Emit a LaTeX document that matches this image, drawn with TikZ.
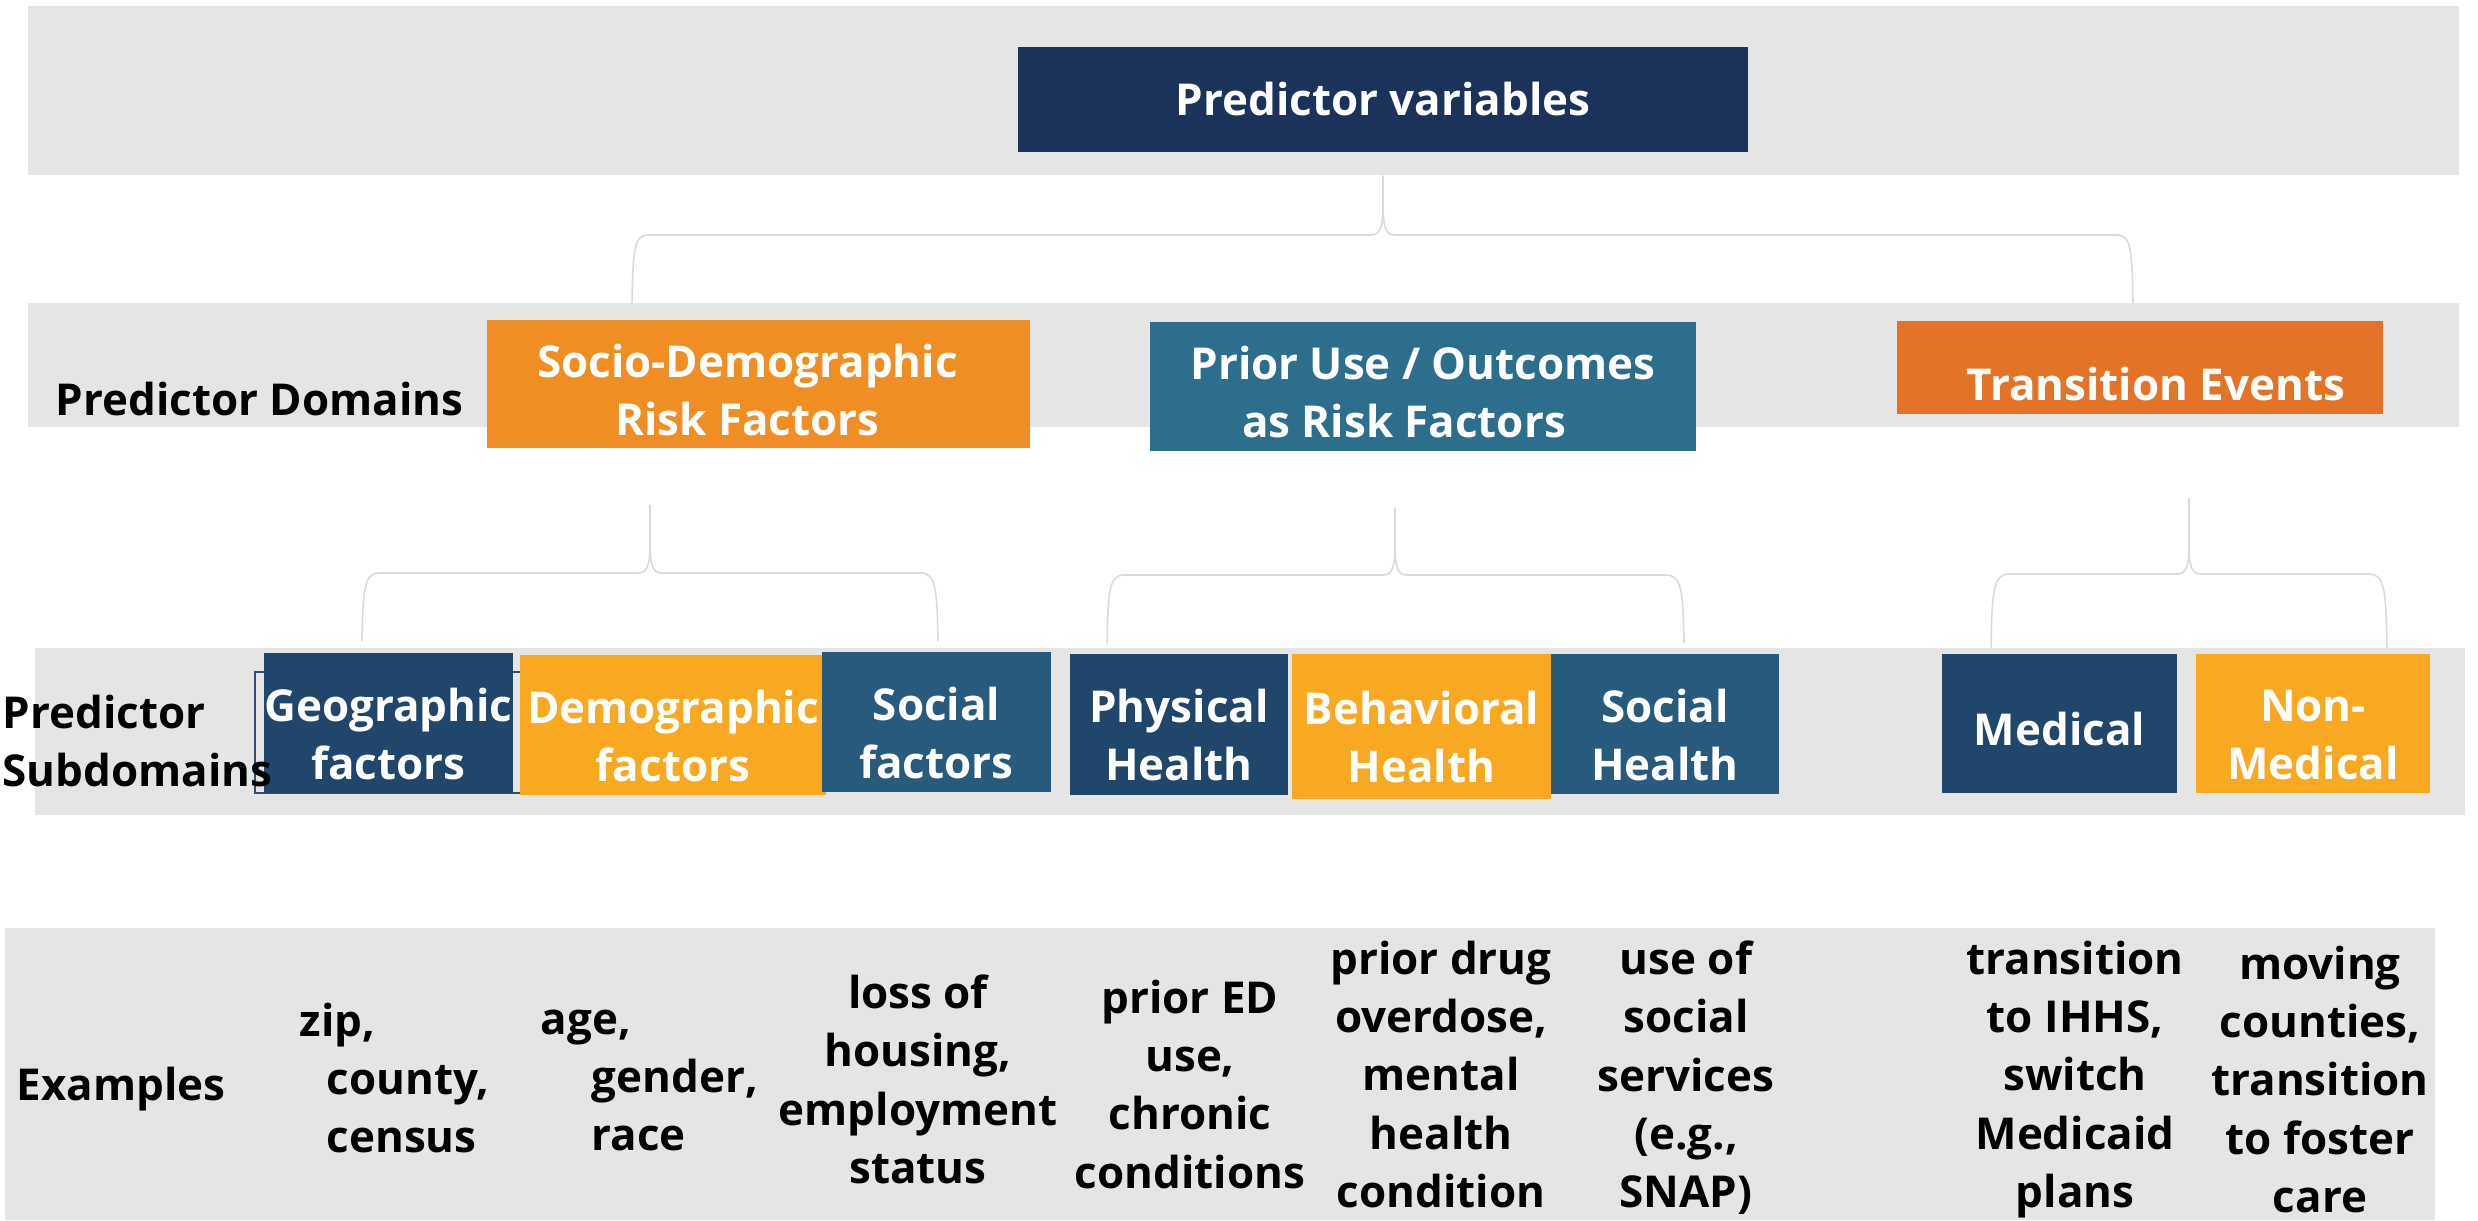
\documentclass[tikz,border=0pt]{standalone}
\usepackage{fontspec}
\setmainfont{Open Sans}
\definecolor{bandgray}{HTML}{E5E5E5}
\definecolor{bracegray}{HTML}{DADADA}
\definecolor{pvnavy}{HTML}{1B325A}
\definecolor{socorange}{HTML}{F08D23}
\definecolor{priorteal}{HTML}{2E6E8D}
\definecolor{transorange}{HTML}{E37327}
\definecolor{subnavy}{HTML}{21466B}
\definecolor{subamber}{HTML}{F8A821}
\definecolor{subblue}{HTML}{285A7D}
\definecolor{outlnavy}{HTML}{2F4F6F}
\newcommand{\dfont}{\fontsize{12.5pt}{16.6pt}\selectfont\bfseries}
\newcommand{\tl}{\rule{0pt}{5.5mm}}
\newcommand{\tld}{\rule{0pt}{4.5mm}}
\begin{document}
\begin{tikzpicture}[x=0.1mm,y=-0.1mm,
  band/.style={rectangle, fill=bandgray, draw=none, inner sep=0pt},
  box/.style={rectangle, inner sep=0pt, text=white, font=\dfont, align=center},
  lbl/.style={inner sep=0pt, font=\dfont, text=black},
  ex/.style={inner sep=0pt, font=\dfont, text=black, align=center, anchor=north},
  bracestyle/.style={draw=bracegray, line width=0.45pt}]
\useasboundingbox (0,0) rectangle (2478,1220);

% bands
\node[band, minimum width=243.1mm, minimum height=16.9mm] (band1) at (1243.5,90.5) {};
\node[band, minimum width=243.1mm, minimum height=12.4mm] (band2) at (1243.5,365) {};
\node[band, minimum width=243.0mm, minimum height=16.7mm] (band3) at (1250,731.5) {};
\node[band, minimum width=243.0mm, minimum height=29.2mm] (band4) at (1220,1074) {};

% top box
\node[box, fill=pvnavy, minimum width=73mm, minimum height=10.5mm] (pv) at (1383,99.5) {Predictor variables};

% domain boxes
\node[box, fill=socorange, minimum width=54.3mm, minimum height=12.8mm] (socio) at (758.5,384) {\tld Socio-Demographic\hspace*{2.2mm}\\Risk Factors\hspace*{2.2mm}};
\node[box, fill=priorteal, minimum width=54.6mm, minimum height=12.9mm] (prior) at (1423,386.5) {\tld Prior Use / Outcomes\\as Risk Factors\hspace*{3.8mm}};
\node[box, fill=transorange, minimum width=48.6mm, minimum height=9.3mm, text height=6.6mm, text depth=0mm] (trans) at (2140,367.5) {\hspace*{3.2mm}Transition Events};

% brace 1
\coordinate (s1) at (pv |- band1.south);
\coordinate (l1) at (632,303);
\coordinate (r1) at (2133,303);
\draw[bracestyle] (l1) .. controls (633,250) and (634,235) .. (648,235) -- (1371,235)
  .. controls (1380,235) and (1383,228) .. (1383,205) -- (s1);
\draw[bracestyle] (r1) .. controls (2132,250) and (2131,235) .. (2117,235) -- (1395,235)
  .. controls (1386,235) and (1383,228) .. (1383,205) -- (s1);

% brace 2
\coordinate (s2) at (650,505);
\coordinate (l2) at (362,641);
\coordinate (r2) at (938,641);
\draw[bracestyle] (l2) .. controls (363,590) and (364,573) .. (379,573) -- (638,573)
  .. controls (647,573) and (650,566) .. (650,543) -- (s2);
\draw[bracestyle] (r2) .. controls (937,590) and (936,573) .. (921,573) -- (662,573)
  .. controls (653,573) and (650,566) .. (650,543) -- (s2);

% brace 3
\coordinate (s3) at (1395,508);
\coordinate (l3) at (1107,643);
\coordinate (r3) at (1684,643);
\draw[bracestyle] (l3) .. controls (1108,592) and (1109,575) .. (1124,575) -- (1383,575)
  .. controls (1392,575) and (1395,568) .. (1395,545) -- (s3);
\draw[bracestyle] (r3) .. controls (1683,592) and (1682,575) .. (1666,575) -- (1407,575)
  .. controls (1398,575) and (1395,568) .. (1395,545) -- (s3);

% brace 4
\coordinate (s4) at (2189,498);
\coordinate (l4) at (1991,648);
\coordinate (r4) at (2387,648);
\draw[bracestyle] (l4) .. controls (1992,592) and (1993,574) .. (2009,574) -- (2177,574)
  .. controls (2186,574) and (2189,567) .. (2189,544) -- (s4);
\draw[bracestyle] (r4) .. controls (2386,592) and (2385,574) .. (2369,574) -- (2201,574)
  .. controls (2192,574) and (2189,567) .. (2189,544) -- (s4);

% outline around geographic box
\draw[draw=outlnavy, line width=0.4pt] (255,672) rectangle (521,793);

% subdomain boxes
\node[box, fill=subnavy, minimum width=24.9mm, minimum height=14.0mm] (geo) at (388.5,723) {\tl Geographic\\factors};
\node[box, fill=subamber, minimum width=30.6mm, minimum height=14.0mm] (demo) at (673,725) {\tl Demographic\\factors};
\node[box, fill=subblue, minimum width=22.9mm, minimum height=14.0mm] (socf) at (936.5,722) {\tl Social\\factors};
\node[box, fill=subnavy, minimum width=21.8mm, minimum height=14.1mm] (phys) at (1179,724.5) {\tl Physical\\Health};
\node[box, fill=subamber, minimum width=25.9mm, minimum height=14.5mm] (behav) at (1421.5,726.5) {\tl Behavioral\\Health};
\node[box, fill=subblue, minimum width=22.8mm, minimum height=14.0mm] (soch) at (1665,724) {\tl Social\\Health};
\node[box, fill=subnavy, minimum width=23.5mm, minimum height=13.9mm, text height=4.3mm, text depth=0mm] (med) at (2059.5,723.5) {Medical};
\node[box, fill=subamber, minimum width=23.4mm, minimum height=13.9mm] (nonmed) at (2313,723.5) {\tl Non-\\Medical};

% row labels
\node[lbl, anchor=base west] (ldom) at (55,415) {Predictor Domains};
\node[lbl, anchor=north west, align=left] (lsub) at (2,694) {\vphantom{l}Predictor\\Subdomains};
\node[lbl, anchor=base west] (lex) at (16,1100) {Examples};

% examples
\node[ex, anchor=north west, align=left] (e1) at (299,1002) {\vphantom{l}zip,\\\hspace*{2.7mm}county,\\\hspace*{2.7mm}census};
\node[ex, anchor=north west, align=left] (e2) at (540,1000) {\vphantom{l}age,\\\hspace*{5.1mm}gender,\\\hspace*{5.1mm}race};
\node[ex] (e3) at (918,974) {\vphantom{l}loss of\\housing,\\employment\\status};
\node[ex] (e4) at (1190,979) {\vphantom{l}prior ED\\use,\\chronic\\conditions};
\node[ex] (e5) at (1441,940) {\vphantom{l}prior drug\\overdose,\\mental\\health\\condition};
\node[ex] (e6) at (1686,940) {\vphantom{l}use of\\social\\services\\(e.g.,\\SNAP)};
\node[ex] (e7) at (2075,940) {\vphantom{l}transition\\to IHHS,\\switch\\Medicaid\\plans};
\node[ex] (e8) at (2320,945) {\vphantom{l}moving\\counties,\\transition\\to foster\\care};
\end{tikzpicture}
\end{document}
